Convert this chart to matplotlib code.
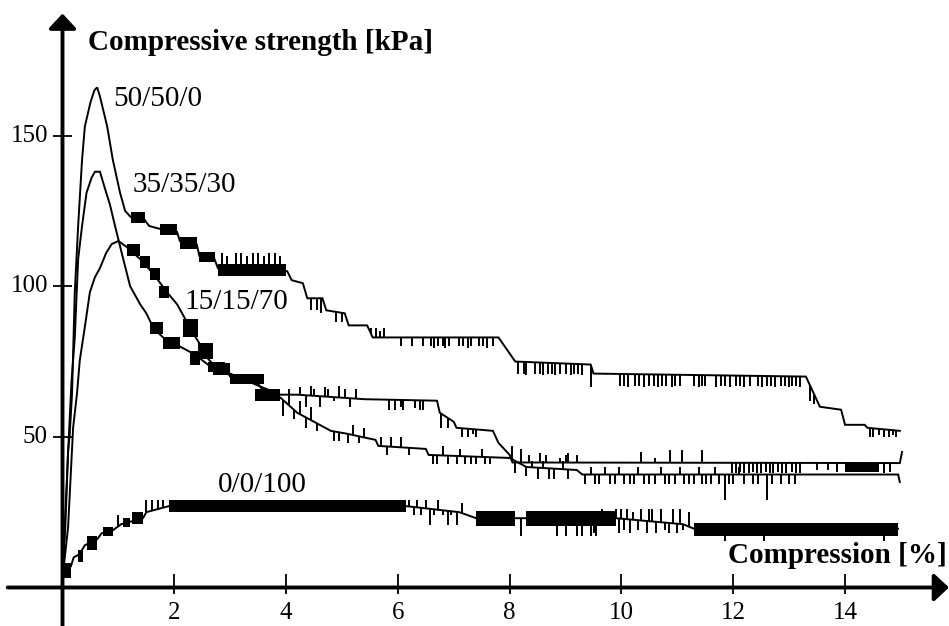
import numpy as np
import matplotlib
matplotlib.use("Agg")
from matplotlib import pyplot as plt

plt.rcParams['font.family'] = ['Liberation Serif', 'DejaVu Serif']

# --- data ----------------------------------------------------------------
x_ticks = [2, 4, 6, 8, 10, 12, 14]
y_ticks = [50, 100, 150]
labels = ['50/50/0', '35/35/30', '15/15/70', '0/0/100']

# 50/50/0
A_x = [0.0, 0.04, 0.1, 0.13, 0.17, 0.22, 0.28, 0.35, 0.4, 0.5, 0.57, 0.62, 0.67, 0.8, 0.9,
       1.03, 1.12, 1.22, 1.47, 1.55, 1.75, 2.05, 2.1, 2.4, 2.45, 2.72, 2.78, 4.02, 4.1, 4.3,
       4.38, 4.65, 4.72, 5.05, 5.12, 5.45, 5.55, 7.8, 7.95, 8.1, 9.45, 9.5, 13.3, 13.45, 13.55,
       13.93, 14.0, 14.35, 14.4, 14.98]
A_y = [4, 20, 45, 51, 64, 98, 120, 142, 153, 161, 165, 166, 163, 153, 142,
       131, 125, 123, 122, 120, 119, 118, 115, 114, 110, 109, 106, 105, 102, 101,
       96, 96, 92, 91, 87, 87, 83, 83, 79, 75, 74, 71, 70, 64, 60,
       59, 54, 54, 53, 52]
A_bx0 = [1.22, 1.75, 2.1, 2.45, 2.78]
A_bx1 = [1.47, 2.05, 2.4, 2.72, 4.0]
A_blo = [121, 117, 112.5, 108, 103.5]
A_bhi = [124.5, 120.5, 116.5, 111.5, 107.5]
A_tx = [2.85, 2.95, 3.1, 3.2, 3.3, 3.4, 3.5, 3.6, 3.7, 3.8, 3.9,
        4.45, 4.55, 4.62, 4.9, 5.0, 5.52, 5.6, 5.68, 5.75,
        6.05, 6.25, 6.45, 6.6, 6.65, 6.72, 6.8, 6.85, 6.92, 7.1, 7.16, 7.25, 7.3, 7.45, 7.52, 7.6, 7.7,
        8.15, 8.25, 8.3, 8.45, 8.55, 8.6, 8.68, 8.75, 8.82, 8.9, 9.0, 9.1, 9.15, 9.22, 9.3, 9.45,
        9.98, 10.05, 10.12, 10.25, 10.32, 10.4, 10.5, 10.58, 10.65, 10.72, 10.8, 10.9, 10.95, 11.05,
        11.3, 11.38, 11.45, 11.5, 11.7, 11.78, 11.85, 11.95, 12.05, 12.12, 12.2, 12.3, 12.45, 12.52,
        12.6, 12.68, 12.75, 12.85, 12.92, 13.0, 13.05, 13.12, 13.2,
        13.38, 13.45, 14.45, 14.5, 14.6, 14.7, 14.78, 14.85, 14.92]
A_tt = [111, 110, 111, 111, 110, 111, 111, 110, 111, 111, 110,
        92, 92, 91, 88, 88, 86, 86, 85, 86,
        80, 80, 80, 80, 79.5, 80, 80, 79.5, 80, 80, 80, 79.5, 80, 80, 80, 79.5, 80,
        71, 71, 70.5, 71, 71, 70.5, 71, 71, 70.5, 71, 71, 70.5, 71, 71, 70.5, 66.5,
        67, 67, 66.5, 67, 67, 66.5, 67, 67, 66.5, 67, 67, 66.5, 67, 67,
        67, 66.5, 67, 67, 66.5, 67, 67, 66.5, 67, 67, 66.5, 67, 67, 66.5,
        67, 67, 66.5, 67, 67, 66.5, 67, 67, 66.5,
        62, 61, 50, 50, 50.5, 50, 50, 50.5, 50]

# 35/35/30
B_x = [0.0, 0.05, 0.1, 0.16, 0.22, 0.28, 0.35, 0.43, 0.52, 0.58, 0.67, 0.75, 0.85, 0.94, 1.06,
       1.21, 1.39, 1.5, 1.63, 1.8, 2.1, 2.3, 2.46, 2.6, 2.9, 3.0, 3.45, 3.6, 3.9, 4.2,
       4.5, 4.8, 5.1, 5.6, 5.65, 6.5, 6.55, 8.0, 8.3, 9.2, 9.3, 14.95, 14.98]
B_y = [3, 20, 45, 68, 83, 109, 120, 131, 136, 138, 138, 133, 127, 120, 111,
       100, 94, 91, 86, 83, 80, 78, 76, 74, 73, 70, 69, 65, 63, 58,
       55, 52, 51, 49, 47, 46, 44, 43, 40, 39, 37.5, 37.5, 35]
B_bx0 = [1.57, 1.8, 2.28, 2.6, 3.0, 3.45]
B_bx1 = [1.8, 2.1, 2.46, 2.9, 3.6, 3.9]
B_blo = [84, 79, 74, 71.5, 67.5, 62]
B_bhi = [88, 83, 78.5, 75, 71, 66]
B_tx = [3.95, 4.05, 4.15, 4.25, 4.35, 4.45, 4.55,
        4.85, 4.95, 5.1, 5.2, 5.3, 5.4,
        5.7, 5.8, 5.88, 6.05, 6.2,
        6.62, 6.7, 6.8, 6.9, 7.05, 7.12, 7.2, 7.3, 7.4, 7.5, 7.55, 7.65,
        8.05, 8.1, 8.2, 8.3, 8.4, 8.5, 8.6, 8.7, 8.8, 8.95, 9.05,
        9.35, 9.45, 9.52, 9.6, 9.7, 9.8, 9.88, 9.95, 10.05, 10.15, 10.22, 10.3, 10.4, 10.5,
        10.6, 10.7, 10.78, 10.85, 10.95, 11.05, 11.12, 11.2, 11.3, 11.38, 11.45, 11.52, 11.6,
        11.68, 11.75, 11.85, 11.92, 12.0, 12.1, 12.2, 12.35, 12.45, 12.6, 12.7, 12.85, 13.0, 13.1]
B_tt = [57, 66, 56, 62, 53, 60, 52,
        48.5, 48.5, 48, 54, 48, 53,
        50, 44, 50, 50, 44,
        41, 41, 47, 41, 41, 46, 41, 41, 41, 46, 41, 41,
        47, 38, 46, 37, 42, 36, 42, 36, 36, 42, 36,
        34.5, 40, 34.5, 34.5, 40, 34.5, 34.5, 40, 34.5, 34.5, 34.5, 40, 34.5, 34.5,
        34.5, 40, 34.5, 34.5, 34.5, 40, 34.5, 34.5, 34.5, 40, 34.5, 34.5, 34.5,
        40, 34.5, 29, 34.5, 34.5, 40, 34.5, 34.5, 34.5, 29, 34.5, 34.5, 34.5, 34.5]

# 15/15/70
C_x = [0.0, 0.1, 0.19, 0.26, 0.31, 0.4, 0.49, 0.58, 0.67, 0.78, 0.88, 1.0, 1.15, 1.39, 1.63,
       1.87, 2.05, 2.2, 2.35, 2.45, 2.6, 2.7, 3.0, 3.5, 3.9, 4.2, 5.4, 6.7, 6.75, 7.0,
       7.05, 7.7, 7.8, 8.0, 8.05, 14.98, 15.02]
C_y = [3, 20, 53, 64.5, 75.5, 86.5, 98, 103, 106, 111, 114, 115, 113, 109, 104,
       98, 94, 89, 84, 81, 76, 74, 71, 67, 64, 64, 62.5, 62, 58, 55,
       53, 52, 48, 44, 41.5, 41.3, 45]
C_bx0 = [1.15, 1.39, 1.56, 1.72, 2.15, 2.42, 2.7, 14.0]
C_bx1 = [1.39, 1.56, 1.74, 1.9, 2.42, 2.7, 3.0, 14.6]
C_blo = [110, 106, 102, 96, 83, 76, 70.5, 38.5]
C_bhi = [114, 110, 106, 100, 89, 81, 74.5, 41.3]
C_tx = [4.25, 4.35, 4.45, 4.5, 4.6, 4.7, 4.75, 4.85, 4.95, 5.05, 5.15, 5.25,
        5.85, 5.95, 6.05, 6.1, 6.3, 6.4, 6.45,
        6.78, 6.85, 6.9, 7.15, 7.25, 7.35, 7.4,
        8.35, 8.55, 8.65, 8.9, 9.0, 9.05, 9.2,
        10.35, 10.6, 10.87, 11.08, 11.44,
        11.97, 12.05, 12.12, 12.2, 12.28, 12.35, 12.42, 12.5, 12.58, 12.65, 12.72, 12.8, 12.88,
        12.95, 13.05, 13.12, 13.2,
        13.5, 13.7, 13.85, 14.7, 14.8]
C_tt = [66.5, 60, 67, 66, 60, 66.5, 66, 62, 67, 66, 60, 66,
        59, 59, 60, 59, 59.5, 59, 59,
        53, 57, 53, 50, 50, 51, 50,
        44, 44.5, 44, 43, 44, 44.5, 44,
        45, 43, 45.5, 45.5, 45.5,
        38, 38, 38.5, 38, 38, 38.5, 38, 38, 38.5, 38, 38, 38.5, 38,
        38, 38.5, 38, 38,
        39, 39, 38.5, 38, 38.5]

# 0/0/100
D_x = [0.0, 0.02, 0.15, 0.2, 0.3, 0.4, 0.5, 0.62, 0.7, 0.9, 1.05, 1.44, 1.5, 1.9, 6.15,
       7.1, 7.4, 9.9, 11.1, 11.3, 14.95]
D_y = [4, 6, 7, 10, 11, 14, 15, 16, 18, 19, 21, 23, 25, 27, 27,
       25, 23, 23, 21, 19.5, 19.5]
D_bx0 = [0.0, 0.27, 0.44, 0.73, 1.08, 1.25, 1.9, 7.4, 8.3, 11.3]
D_bx1 = [0.15, 0.37, 0.62, 0.9, 1.2, 1.44, 6.15, 8.1, 9.9, 14.95]
D_blo = [3, 8.5, 12.6, 17, 20, 21, 25, 20.5, 20.5, 17]
D_bhi = [8, 12.6, 17, 20, 23, 25, 29, 25.5, 25.5, 21.4]
D_tx = [1.0, 1.3, 1.5, 1.6, 1.7, 1.8,
        6.2, 6.28, 6.35, 6.42, 6.5, 6.58, 6.65, 6.72, 6.8, 6.9, 6.95, 7.05, 7.15,
        8.2, 8.85, 9.0, 9.2, 9.3, 9.45, 9.5, 9.55, 9.65,
        9.9, 9.95, 10.0, 10.05, 10.1, 10.15, 10.2, 10.3, 10.35, 10.45, 10.5, 10.55, 10.62,
        10.7, 10.78, 10.85, 10.92, 11.0, 11.05, 11.1, 11.2,
        11.85, 12.55, 14.7]
D_tt = [24, 23, 29, 29, 29, 29,
        29, 24, 29, 24, 29, 20.7, 24, 29, 24, 20.7, 24, 20.7, 28,
        17, 17, 17, 17, 17, 17, 18, 17, 26,
        26, 18, 26, 19, 26, 18, 25, 19, 26, 18, 26, 26, 18,
        26, 19, 18, 26, 18, 26, 19, 25,
        15.5, 15.5, 15.5]

series = [
    (A_x, A_y, A_bx0, A_bx1, A_blo, A_bhi, A_tx, A_tt),
    (B_x, B_y, B_bx0, B_bx1, B_blo, B_bhi, B_tx, B_tt),
    (C_x, C_y, C_bx0, C_bx1, C_blo, C_bhi, C_tx, C_tt),
    (D_x, D_y, D_bx0, D_bx1, D_blo, D_bhi, D_tx, D_tt),
]

# --- figure ---------------------------------------------------------------
fig = plt.figure(figsize=(9.49, 6.26), dpi=100)
ax = fig.add_axes([0, 0, 1, 1])
ax.set_xlim(-1.118, 15.86)
ax.set_ylim(-12.78, 195.0)
ax.axis('off')

for sx, sy, bx0, bx1, blo, bhi, tx, tt in series:
    ax.plot(sx, sy, color='black', lw=1.4, solid_joinstyle='miter')
    bx0 = np.array(bx0)
    ax.bar(bx0, np.array(bhi) - np.array(blo), width=np.array(bx1) - bx0,
           bottom=blo, align='edge', color='black', linewidth=0)
    base = np.interp(tx, sx, sy)
    ax.vlines(tx, base, tt, color='black', lw=1.4)

# axes with arrows
arrow = dict(arrowstyle='-|>,head_length=0.45,head_width=0.42', lw=2.8,
             color='black', mutation_scale=20, shrinkA=0, shrinkB=0)
ax.annotate('', xy=(15.86, 0), xytext=(-0.98, 0), arrowprops=arrow)
ax.annotate('', xy=(0, 190.5), xytext=(0, -12.78), arrowprops=arrow)

ax.vlines(x_ticks, -2, 4.5, color='black', lw=1.3)
ax.hlines(y_ticks, -0.17, 0.17, color='black', lw=1.3)
for t in x_ticks:
    ax.text(t, -8.3, str(t), ha='center', va='center', fontsize=18)
for t in y_ticks:
    ax.text(-0.26, t, str(t), ha='right', va='center', fontsize=18)

ax.text(0.456, 178.4, 'Compressive strength [kPa]', fontsize=21,
        fontweight='bold', ha='left', va='baseline')
ax.text(15.82, 8.1, 'Compression [%]', fontsize=21, fontweight='bold',
        ha='right', va='baseline')

label_pos = [(0.905, 159.8), (1.26, 131.3), (2.19, 92.4), (2.78, 31.7)]
for txt, (lx, ly) in zip(labels, label_pos):
    ax.text(lx, ly, txt, fontsize=21, ha='left', va='baseline')

fig.savefig('out.png', dpi=100)
